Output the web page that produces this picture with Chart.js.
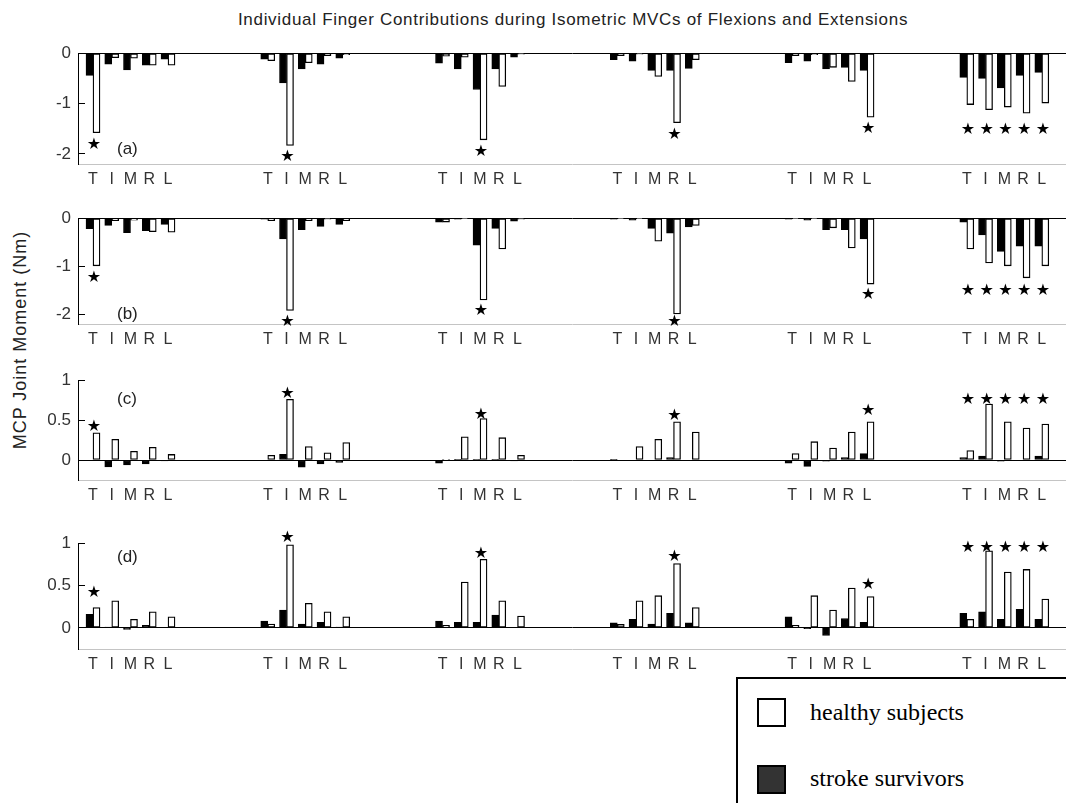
<!DOCTYPE html>
<html lang="en">
<head>
<meta charset="UTF-8">
<title>Individual Finger Contributions</title>
<script src="https://cdn.jsdelivr.net/npm/chart.js@4.4.0/dist/chart.umd.min.js"></script>
<style>
  body { margin: 0; width: 1066px; height: 803px; overflow: hidden; background: #fff; position: relative;
         font-family: "Liberation Sans", Arial, sans-serif; }
  canvas { position: absolute; left: 0; }
  #title { position: absolute; top: 10px; left: 573px; transform: translateX(-50%); white-space: nowrap;
           font-size: 17px; letter-spacing: 0.7px; color: #222; }
  #ylabel { position: absolute; left: 20px; top: 340px; transform: translate(-50%, -50%) rotate(-90deg);
            white-space: nowrap; font-size: 18px; letter-spacing: 1px; color: #222; }
  #legend { position: absolute; left: 736px; top: 677px; width: 400px; height: 160px; border: 2px solid #000;
            box-sizing: border-box; font-family: "Liberation Serif", "Times New Roman", serif; font-size: 24px; }
  .sw { position: absolute; left: 19px; width: 29px; height: 29px; box-sizing: border-box; border: 2px solid #000; }
  .txt { position: absolute; left: 72px; line-height: 30px; }
</style>
</head>
<body>
<div id="title">Individual Finger Contributions during Isometric MVCs of Flexions and Extensions</div>
<div id="ylabel">MCP Joint Moment (Nm)</div>
<canvas id="pa" width="1066" height="161" style="top:29px"></canvas>
<canvas id="pb" width="1066" height="156" style="top:194px"></canvas>
<canvas id="pc" width="1066" height="150" style="top:356px"></canvas>
<canvas id="pd" width="1066" height="156" style="top:519px"></canvas>
<div id="legend">
  <div class="sw" style="top:19px;background:#fff"></div>
  <div class="txt" style="top:18px">healthy subjects</div>
  <div class="sw" style="top:86px;background:#333"></div>
  <div class="txt" style="top:84px">stroke survivors</div>
</div>
<script>
const fingers = ['T', 'I', 'M', 'R', 'L'];
const groupStride = 9.32;

// (a) flexion
const strokeA = [-0.44, -0.22, -0.33, -0.24, -0.12,
                 -0.12, -0.59, -0.31, -0.22, -0.10,
                 -0.20, -0.31, -0.72, -0.31, -0.08,
                 -0.13, -0.16, -0.34, -0.34, -0.30,
                 -0.19, -0.16, -0.31, -0.28, -0.34,
                 -0.48, -0.50, -0.69, -0.44, -0.38];
const healthyA = [-1.58, -0.09, -0.10, -0.24, -0.24,
                  -0.15, -1.83, -0.19, -0.05, -0.03,
                  -0.06, -0.08, -1.72, -0.66, -0.02,
                  -0.05, -0.02, -0.46, -1.38, -0.13,
                  -0.05, -0.03, -0.28, -0.56, -1.27,
                  -1.02, -1.12, -1.07, -1.19, -0.99];
const starIdxA = [0, 6, 12, 18, 24, 25, 26, 27, 28, 29];
const starYA = [-1.81, -2.06, -1.96, -1.63, -1.50, -1.52, -1.52, -1.52, -1.52, -1.52];

// (b)
const strokeB = [-0.22, -0.15, -0.30, -0.26, -0.13,
                 -0.02, -0.43, -0.24, -0.17, -0.13,
                 -0.08, -0.02, -0.56, -0.21, -0.06,
                 -0.02, -0.04, -0.21, -0.31, -0.18,
                 -0.02, -0.04, -0.24, -0.24, -0.43,
                 -0.08, -0.35, -0.69, -0.58, -0.58];
const healthyB = [-0.99, -0.05, -0.04, -0.28, -0.29,
                  -0.05, -1.92, -0.05, -0.02, -0.05,
                  -0.08, -0.01, -1.70, -0.64, -0.02,
                  -0.01, -0.01, -0.48, -1.99, -0.15,
                  -0.01, -0.01, -0.20, -0.62, -1.37,
                  -0.64, -0.93, -0.99, -1.24, -0.99];
const starIdxB = [0, 6, 12, 18, 24, 25, 26, 27, 28, 29];
const starYB = [-1.25, -2.16, -1.92, -2.15, -1.60, -1.52, -1.52, -1.52, -1.52, -1.52];

// (c) extension
const strokeC = [0.00, -0.085, -0.06, -0.05, -0.01,
                 0.00, 0.07, -0.09, -0.05, -0.03,
                 -0.04, 0.01, 0.01, 0.01, -0.01,
                 0.01, 0.00, 0.00, 0.03, 0.00,
                 -0.04, -0.08, -0.015, 0.03, 0.08,
                 0.03, 0.05, -0.015, 0.00, 0.05];
const healthyC = [0.34, 0.26, 0.11, 0.16, 0.07,
                  0.06, 0.76, 0.17, 0.09, 0.22,
                  0.01, 0.29, 0.52, 0.28, 0.06,
                  0.00, 0.17, 0.26, 0.48, 0.35,
                  0.08, 0.23, 0.15, 0.35, 0.48,
                  0.12, 0.70, 0.48, 0.40, 0.45];
const starIdxC = [0, 6, 12, 18, 24, 25, 26, 27, 28, 29];
const starYC = [0.42, 0.83, 0.57, 0.55, 0.61, 0.76, 0.76, 0.76, 0.76, 0.76];

// (d)
const strokeD = [0.16, 0.01, -0.02, 0.03, 0.00,
                 0.08, 0.21, 0.045, 0.065, 0.01,
                 0.08, 0.065, 0.065, 0.15, 0.00,
                 0.06, 0.10, 0.045, 0.17, 0.06,
                 0.13, -0.01, -0.09, 0.11, 0.065,
                 0.17, 0.19, 0.10, 0.22, 0.10];
const healthyD = [0.24, 0.32, 0.10, 0.19, 0.13,
                  0.045, 0.98, 0.29, 0.19, 0.13,
                  0.03, 0.54, 0.81, 0.32, 0.14,
                  0.04, 0.32, 0.38, 0.76, 0.24,
                  0.03, 0.38, 0.21, 0.47, 0.37,
                  0.10, 0.91, 0.66, 0.69, 0.34];
const starIdxD = [0, 6, 12, 18, 24, 25, 26, 27, 28, 29];
const starYD = [0.41, 1.06, 0.88, 0.84, 0.51, 0.94, 0.94, 0.94, 0.94, 0.94];

const flexTicks = [-2, -1, 0];
const extTicks = [0, 0.5, 1];

// x position of bar pair i (6 groups of 5 fingers)
function slot(i) {
  return Math.floor(i / 5) * groupStride + (i % 5);
}

const marks = {
  id: 'marks',
  afterDatasetsDraw(chart, args, opts) {
    const { ctx, scales: { x, y } } = chart;
    ctx.save();
    ctx.fillStyle = '#000';
    ctx.textAlign = 'center';
    ctx.textBaseline = 'middle';
    ctx.font = 'bold 16px "DejaVu Sans"';
    opts.stars.forEach((idx, k) => {
      ctx.fillText('★', x.getPixelForValue(slot(idx)) + 1, y.getPixelForValue(opts.starY[k]));
    });
    ctx.fillStyle = '#222';
    ctx.textAlign = 'left';
    ctx.font = '17px "Liberation Sans", Arial, sans-serif';
    ctx.fillText(opts.tag, x.getPixelForValue(opts.tagAt[0]), y.getPixelForValue(opts.tagAt[1]));
    ctx.restore();
  }
};

function makePanel(id, stroke, healthy, yMin, yMax, yTicks, starIdx, starY, tag, tagY) {
  const pts = arr => arr.map((v, i) => ({ x: slot(i), y: v }));
  new Chart(document.getElementById(id), {
    type: 'bar',
    data: {
      datasets: [
        { label: 'stroke survivors', data: pts(stroke), backgroundColor: '#000', borderColor: '#000',
          borderWidth: 1, borderSkipped: false, barThickness: 7 },
        { label: 'healthy subjects', data: pts(healthy), backgroundColor: '#fff', borderColor: '#000',
          borderWidth: 1.3, borderSkipped: false, barThickness: 7 }
      ]
    },
    options: {
      responsive: false,
      animation: false,
      layout: { padding: { top: 16, left: 0, right: 0, bottom: 0 } },
      scales: {
        x: {
          type: 'linear',
          min: -0.8,
          max: 51.89,
          offset: false,
          afterBuildTicks: s => { s.ticks = healthy.map((v, i) => ({ value: slot(i) })); },
          afterFit: s => { s.height = 26; },
          grid: { display: false, drawTicks: false },
          border: { display: true, color: '#c4c4c4', width: 1 },
          ticks: {
            autoSkip: false, maxRotation: 0, padding: 6,
            color: '#333', font: { size: 16, family: '"Liberation Sans", Arial, sans-serif' },
            callback: (v, i) => fingers[i % 5]
          }
        },
        y: {
          min: yMin,
          max: yMax,
          afterBuildTicks: s => { s.ticks = yTicks.map(v => ({ value: v })); },
          afterFit: s => { s.width = 78; },
          grid: {
            color: c => (c.tick && c.tick.value === 0 ? '#000' : 'rgba(0,0,0,0)'),
            tickColor: '#000', tickLength: -7, drawTicks: true, lineWidth: 1
          },
          border: { display: true, color: '#000', width: 1 },
          ticks: {
            padding: 14, color: '#333',
            font: { size: 17, family: '"Liberation Sans", Arial, sans-serif' },
            callback: v => String(v)
          }
        }
      },
      plugins: {
        legend: { display: false },
        tooltip: { enabled: false },
        marks: { stars: starIdx, starY: starY, tag: tag, tagAt: [1.28, tagY] }
      }
    },
    plugins: [marks]
  });
}

makePanel('pa', strokeA, healthyA, -2.2, 0, flexTicks, starIdxA, starYA, '(a)', -1.9);
makePanel('pb', strokeB, healthyB, -2.2, 0, flexTicks, starIdxB, starYB, '(b)', -2.0);
makePanel('pc', strokeC, healthyC, -0.25, 1, extTicks, starIdxC, starYC, '(c)', 0.76);
makePanel('pd', strokeD, healthyD, -0.25, 1, extTicks, starIdxD, starYD, '(d)', 0.83);
</script>
</body>
</html>
